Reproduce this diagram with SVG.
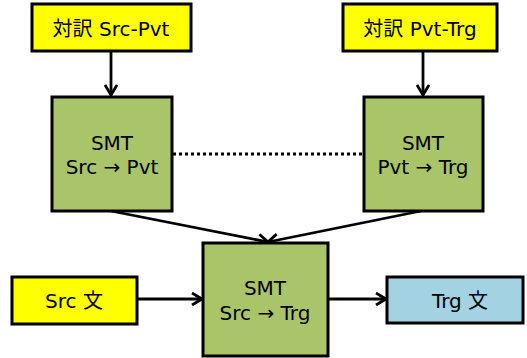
<svg xmlns="http://www.w3.org/2000/svg" width="527" height="358" viewBox="0 0 527 358">
<defs>
<marker id="ah" markerWidth="13" markerHeight="14" refX="11" refY="7" orient="auto" markerUnits="userSpaceOnUse">
<polyline points="1,1 11,7 1,13" fill="none" stroke="#000" stroke-width="2.8"/>
</marker>
<style>
.box{stroke:#000;stroke-width:3}
.y{fill:#FFFF00}
.g{fill:#AAC46A}
.b{fill:#A3D3E3}
text{font-family:"DejaVu Sans","Noto Sans CJK JP",sans-serif;font-size:20px;fill:#000;text-anchor:middle;dominant-baseline:central}
.c{stroke:#000;stroke-width:2.8;fill:none}
</style>
</defs>
<g id="connectors">
<line class="c" x1="111" y1="52" x2="111" y2="95" marker-end="url(#ah)"/>
<line class="c" x1="423" y1="52" x2="423" y2="95" marker-end="url(#ah)"/>
<line x1="173" y1="154" x2="363" y2="154" stroke="#000" stroke-width="3" stroke-dasharray="3,3"/>
<line class="c" x1="111" y1="211" x2="268" y2="242" marker-end="url(#ah)"/>
<line class="c" x1="421" y1="211" x2="268" y2="242" marker-end="url(#ah)"/>
<line class="c" x1="137" y1="299" x2="202" y2="299" marker-end="url(#ah)"/>
<line class="c" x1="328" y1="299" x2="386" y2="299" marker-end="url(#ah)"/>
</g>
<g id="corpus1"><rect class="box y" x="32" y="4" width="159" height="47"/><text x="111" y="29">対訳 Src-Pvt</text></g>
<g id="corpus2"><rect class="box y" x="343" y="4" width="154" height="47"/><text x="420" y="29">対訳 Pvt-Trg</text></g>
<g id="smt1"><rect class="box g" x="52" y="97" width="120" height="114"/><text x="112" y="143">SMT</text><text x="112" y="167">Src → Pvt</text></g>
<g id="smt2"><rect class="box g" x="364" y="97" width="119" height="114"/><text x="423" y="143">SMT</text><text x="423" y="167">Pvt → Trg</text></g>
<g id="smt3"><rect class="box g" x="203" y="243" width="125" height="113"/><text x="265" y="288">SMT</text><text x="265" y="313">Src → Trg</text></g>
<g id="src"><rect class="box y" x="12" y="277" width="125" height="47"/><text x="74" y="301">Src 文</text></g>
<g id="trg"><rect class="box b" x="387" y="277" width="136" height="46"/><text x="460" y="301">Trg 文</text></g>
</svg>
